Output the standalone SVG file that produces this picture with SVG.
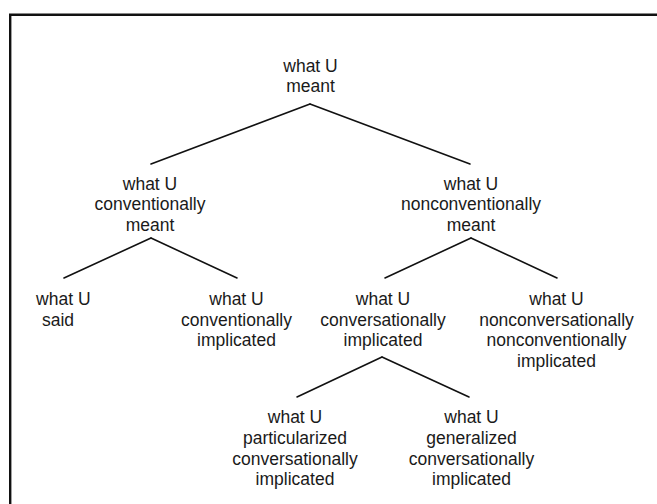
<svg xmlns="http://www.w3.org/2000/svg" width="657" height="504" viewBox="0 0 657 504">
<style>
text{font-family:"Liberation Sans",Arial,Helvetica,sans-serif;font-size:17.5px;fill:#1a1a1a;text-anchor:middle}
.e{stroke:#111;stroke-width:1.6;fill:none;stroke-linecap:round}
.frame{stroke:#111;stroke-width:2.4;fill:none}
</style>
<rect width="657" height="504" fill="#fff"/>
<path class="frame" d="M10.2,504 V14.7 H657"/>
<g id="connectors">
<line class="e" x1="310" y1="104" x2="151" y2="164"/>
<line class="e" x1="310" y1="104" x2="470" y2="164"/>
<line class="e" x1="151" y1="238" x2="64" y2="278"/>
<line class="e" x1="151" y1="238" x2="237" y2="278"/>
<line class="e" x1="471" y1="238" x2="385" y2="278"/>
<line class="e" x1="471" y1="238" x2="557" y2="278"/>
<line class="e" x1="382" y1="357" x2="297" y2="397"/>
<line class="e" x1="382" y1="357" x2="469" y2="397"/>
</g>
<g id="n-meant">
<text x="310.5" y="71.7">what U</text>
<text x="310.5" y="92.2">meant</text>
</g>
<g id="n-conv-meant">
<text x="150" y="189.8">what U</text>
<text x="150" y="210.4">conventionally</text>
<text x="150" y="231">meant</text>
</g>
<g id="n-nonconv-meant">
<text x="471" y="189.8">what U</text>
<text x="471" y="210.4">nonconventionally</text>
<text x="471" y="231">meant</text>
</g>
<g id="n-said">
<text x="63.3" y="305">what U</text>
<text x="58" y="325.7">said</text>
</g>
<g id="n-conv-impl">
<text x="236.5" y="305">what U</text>
<text x="236.5" y="325.7">conventionally</text>
<text x="236.5" y="346.4">implicated</text>
</g>
<g id="n-conversational-impl">
<text x="383" y="305">what U</text>
<text x="383" y="325.7">conversationally</text>
<text x="383" y="346.4">implicated</text>
</g>
<g id="n-nonconversational">
<text x="556.5" y="305">what U</text>
<text x="556.5" y="325.7">nonconversationally</text>
<text x="556.5" y="346.4">nonconventionally</text>
<text x="556.5" y="367.1">implicated</text>
</g>
<g id="n-particularized">
<text x="295" y="423.3">what U</text>
<text x="295" y="444">particularized</text>
<text x="295" y="464.7">conversationally</text>
<text x="295" y="485.4">implicated</text>
</g>
<g id="n-generalized">
<text x="471.5" y="423.3">what U</text>
<text x="471.5" y="444">generalized</text>
<text x="471.5" y="464.7">conversationally</text>
<text x="471.5" y="485.4">implicated</text>
</g>
</svg>
